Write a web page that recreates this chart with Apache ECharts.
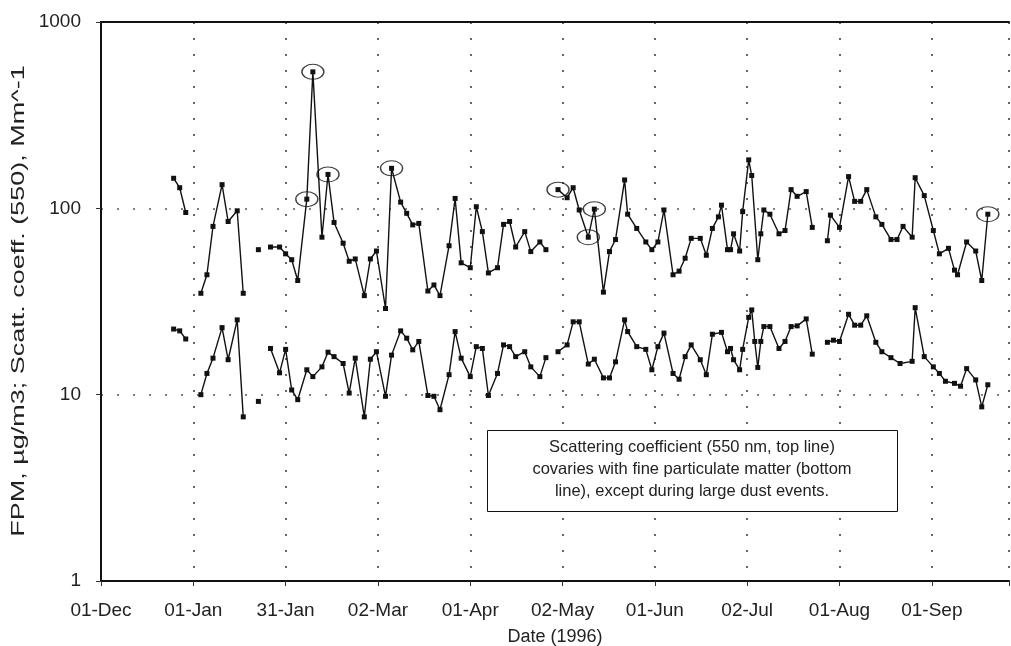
<!DOCTYPE html>
<html>
<head>
<meta charset="utf-8">
<script src="https://cdn.jsdelivr.net/npm/echarts@6/dist/echarts.min.js"></script>
<style>
  html, body { margin: 0; padding: 0; background: #fff; overflow: hidden; }
  #chart { width: 1011px; height: 646px; }
</style>
</head>
<body>
<div id="chart"></div>
<script>
// x = days counted from 01-Dec-1995, null value = break in the record
var scatDays = [24, 26, 28, 30,
  33, 35, 37, 40, 42, 45, 47, 49,
  52, 54,
  56, 59, 61, 63, 65, 68, 70, 73, 75, 77, 80, 82, 84, 87, 89, 91, 94, 96, 99, 101,
  103, 105, 108, 110, 112, 115, 117, 119, 122, 124, 126, 128, 131, 133, 135, 137,
  140, 142, 145, 147, 149,
  151, 154, 156, 158, 161, 163, 166, 168, 170, 173, 174, 177, 180, 182, 184, 186,
  189, 191, 193, 195, 198, 200, 202, 204, 205, 207, 208, 209, 211, 212, 214, 215,
  217, 218, 219, 221, 224, 226, 228, 230, 233, 235, 237,
  240, 241, 244, 247, 249, 251, 253, 256, 258, 261, 263, 265, 268, 269, 272, 275,
  277, 280, 282, 283, 286, 289, 291, 293];
var scatVals = [145, 129, 95, null,
  35, 44, 80, 134, 85, 97, 35, null,
  60, null,
  62, 62, 57, 53, 41, 112, 540, 70, 152, 84, 65, 52, 53.5, 34, 53.5, 59, 29, 164, 108, 94,
  81.5, 83, 36, 38.8, 34, 63, 113, 51, 48, 102, 75, 45, 48, 82, 85, 62,
  75, 58.6, 66, 60, null,
  126, 114, 129, 98, 70, 99, 35.5, 58.6, 68, 142, 93, 78, 66, 60, 66, 98,
  44, 46, 54, 69, 69, 56, 78, 90, 104, 60, 60, 73, 59, 96, 182, 150,
  53, 73, 98, 93, 73, 76, 126, 116, 123, 79, null,
  67, 92, 79, 148, 109, 109, 126, 90, 82, 68, 68, 80, 70, 146, 117, 76,
  57, 61, 46.6, 44, 66, 59, 41, 93];

var fpmDays = [24, 26, 28, 30,
  33, 35, 37, 40, 42, 45, 47, 49,
  52, 54,
  56, 59, 61, 63, 65, 68, 70, 73, 75, 77, 80, 82, 84, 87, 89, 91, 94, 96, 99, 101,
  103, 105, 108, 110, 112, 115, 117, 119, 122, 124, 126, 128, 131, 133, 135, 137,
  140, 142, 145, 147, 149,
  151, 154, 156, 158, 161, 163, 166, 168, 170, 173, 174, 177, 180, 182, 184, 186,
  189, 191, 193, 195, 198, 200, 202, 205, 207, 208, 209, 211, 212, 214, 215, 216,
  217, 218, 219, 221, 224, 226, 228, 230, 233, 235, 237,
  240, 242, 244, 247, 249, 251, 253, 256, 258, 261, 264, 268, 269, 272, 275, 277,
  279, 282, 284, 286, 289, 291, 293];
var fpmVals = [22.5, 22, 19.9, null,
  10, 13, 15.7, 22.9, 15.4, 25.2, 7.6, null,
  9.2, null,
  17.7, 13.1, 17.5, 10.6, 9.4, 13.6, 12.5, 14.1, 16.9, 16, 14.7, 10.2, 15.7, 7.6, 15.5, 17, 9.8, 16.3, 22, 20.1,
  17.4, 19.3, 9.9, 9.8, 8.3, 12.8, 21.8, 15.7, 12.5, 18.1, 17.7, 9.9, 13, 18.5, 18.1, 16,
  17, 14.1, 12.5, 15.8, null,
  17, 18.5, 24.6, 24.6, 14.6, 15.5, 12.3, 12.3, 15, 25.2, 21.8, 18.1, 17.5, 13.6, 18.1, 21.4,
  13, 12.1, 16, 18.5, 15.4, 12.8, 21.1, 21.6, 17, 17.7, 15.4, 13.6, 17.5, 26, 28.5, 19.3,
  14, 19.3, 23.2, 23.2, 17.7, 19.3, 23.2, 23.4, 25.5, 16.5, null,
  19.1, 19.6, 19.3, 27, 23.6, 23.6, 26.5, 19.1, 17, 15.8, 14.7, 15.1, 29.3, 16, 14.1, 13,
  11.8, 11.5, 11.1, 13.8, 12, 8.6, 11.3];

// points ringed on the original (dust events)
var circledDays = [68, 70, 75, 96, 151, 161, 163, 293];
var circledVals = [112, 540, 152, 164, 126, 70, 99, 93];

var tickStep = 30.5;
var tickLabels = ['01-Dec', '01-Jan', '31-Jan', '02-Mar', '01-Apr', '02-May', '01-Jun', '02-Jul', '01-Aug', '01-Sep'];

var toPairs = function(days, vals) {
  return days.map(function(d, i) {
    return [d, vals[i] == null ? '-' : vals[i]];
  });
};

var font = 'Liberation Sans, Arial, sans-serif';
var chart = echarts.init(document.getElementById('chart'), null, { renderer: 'canvas' });

var option = {
  animation: false,
  backgroundColor: '#fff',
  grid: { left: 101, right: 2, top: 22, bottom: 65, outerBoundsMode: 'none' },
  xAxis: [
    {
      type: 'value',
      min: 0,
      max: 300,
      interval: tickStep,
      name: 'Date (1996)',
      nameLocation: 'middle',
      nameGap: 47,
      nameTextStyle: { color: '#222', fontSize: 18, fontFamily: font },
      axisLine: { lineStyle: { color: '#111', width: 2 } },
      axisTick: { show: true, length: 5, lineStyle: { color: '#333' } },
      axisLabel: {
        color: '#222',
        fontSize: 19,
        fontFamily: font,
        margin: 20,
        formatter: function(v) {
          var i = Math.round(v / tickStep);
          if (Math.abs(v - i * tickStep) > 0.01) return '';
          return tickLabels[i] || '';
        }
      },
      splitLine: { show: true, lineStyle: { color: '#333', width: 1.5, type: [2, 14] } }
    },
    {
      type: 'value',
      position: 'top',
      min: 0,
      max: 300,
      axisLine: { lineStyle: { color: '#111', width: 2 } },
      axisTick: { show: false },
      axisLabel: { show: false },
      splitLine: { show: false }
    }
  ],
  yAxis: {
    type: 'log',
    logBase: 10,
    min: 1,
    max: 1000,
    axisLine: { show: true, lineStyle: { color: '#111', width: 2 } },
    axisTick: { show: true, length: 5, lineStyle: { color: '#333' } },
    axisLabel: {
      color: '#222',
      fontSize: 19,
      fontFamily: font,
      margin: 20,
      formatter: function(v) { return String(Math.round(v)); }
    },
    minorTick: { show: false },
    splitLine: { show: true, lineStyle: { color: '#555', width: 1.5, type: [2, 14] } }
  },
  series: [
    {
      name: 'Scattering coefficient',
      type: 'line',
      data: toPairs(scatDays, scatVals),
      connectNulls: false,
      symbol: 'rect',
      symbolSize: 5,
      itemStyle: { color: '#111' },
      lineStyle: { color: '#111', width: 1.4 }
    },
    {
      name: 'FPM',
      type: 'line',
      data: toPairs(fpmDays, fpmVals),
      connectNulls: false,
      symbol: 'rect',
      symbolSize: 5,
      itemStyle: { color: '#111' },
      lineStyle: { color: '#111', width: 1.4 }
    },
    {
      name: 'dust events',
      type: 'scatter',
      data: toPairs(circledDays, circledVals),
      symbol: 'circle',
      symbolSize: [22, 15],
      itemStyle: { color: 'rgba(0,0,0,0)', borderColor: '#111', borderWidth: 1.2 },
      z: 5
    }
  ],
  graphic: [
    {
      // y axis title; a group so the stretch runs along the text, then turn it
      type: 'group',
      x: 19,
      y: 301,
      rotation: Math.PI / 2,
      children: [
        {
          type: 'text',
          scaleX: 1.42,
          style: {
            text: 'FPM, µg/m3; Scatt. coeff. (550), Mm^-1',
            fill: '#222',
            font: '19px Liberation Sans, Arial, sans-serif',
            align: 'center',
            verticalAlign: 'middle'
          }
        }
      ]
    },
    {
      type: 'rect',
      left: 487,
      top: 430,
      shape: { width: 410, height: 81 },
      style: { fill: '#fff', stroke: '#111', lineWidth: 1 },
      z: 10
    },
    {
      type: 'text',
      x: 692,
      y: 436,
      style: {
        text: 'Scattering coefficient (550 nm, top line)\ncovaries with fine particulate matter (bottom\nline), except during large dust events.',
        fill: '#222',
        font: '16.5px Liberation Sans, Arial, sans-serif',
        align: 'center',
        lineHeight: 22
      },
      z: 11
    }
  ]
};

chart.setOption(option);
</script>
</body>
</html>
